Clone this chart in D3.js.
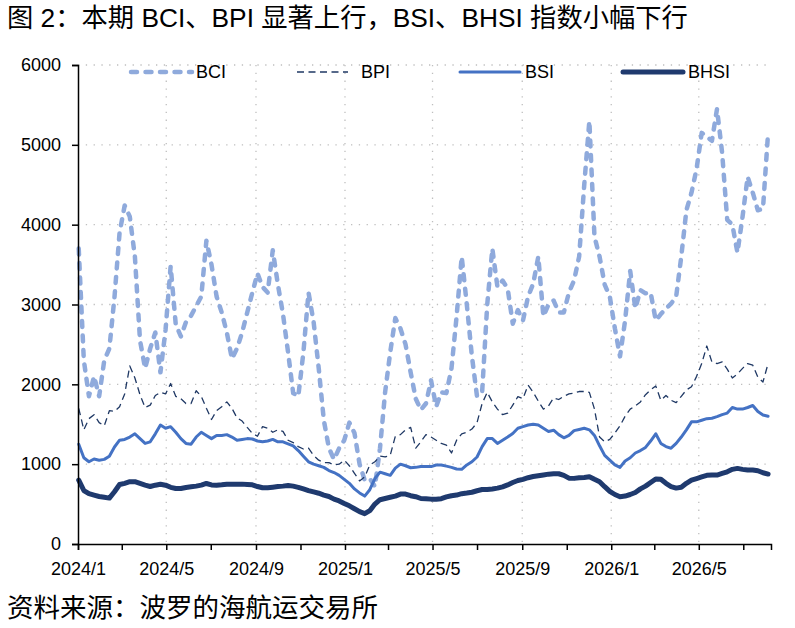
<!DOCTYPE html>
<html>
<head>
<meta charset="utf-8">
<script src="https://cdn.jsdelivr.net/npm/d3@7/dist/d3.min.js"></script>
<style>
  body { margin: 0; background: #fff; }
  svg text { font-family: "Liberation Sans", Arial, sans-serif; fill: #000; }
  .cjk { font-family: "Liberation Sans", "Noto Sans CJK SC", sans-serif; }
</style>
</head>
<body>
<svg id="chart" width="795" height="628"></svg>
<script>
// weekly readings, first week starts 2024/1/2
const startDate = new Date(2024, 0, 2);

const bci = [
  3700, 2300, 1850, 2100, 1850, 2300, 2450, 3090, 3900, 4240,
  4100, 3600, 2550, 2200, 2450, 2650, 2150, 2680, 3480, 2750,
  2600, 2780, 2860, 2980, 3100, 3800, 3500, 3100, 2900, 2650,
  2320, 2450, 2650, 2900, 3150, 3390, 3220, 3150, 3680, 3250,
  2880, 2400, 1890, 1850, 2400, 3150, 2780, 2200, 1550, 1200,
  1060, 1200, 1300, 1520, 1390, 1000, 800, 820, 720, 1200,
  1900, 2400, 2830, 2700, 2500, 2150, 1820, 1680, 1760, 2050,
  1720, 1900, 1890, 2200, 2850, 3600, 3000, 2350, 1850, 1900,
  3000, 3700, 3220, 3300, 3200, 2760, 2930, 2800, 3100, 3260,
  3600, 2850, 3000, 3050, 2900, 2900, 3150, 3300, 3600, 4500,
  5300, 3850, 3600, 3250, 3100, 2700, 2350, 2800, 3420, 2950,
  3180, 3140, 3150, 2800, 2880, 2950, 3010, 3100, 3600, 4180,
  4400, 4700, 5150, 5100, 5050, 5450, 4900, 4060, 4000, 3650,
  4100, 4600, 4400, 4180, 4200, 5150
];

const bpi = [
  1700, 1430, 1570, 1620, 1520, 1480, 1670, 1660, 1720, 1880,
  2230, 2080, 1870, 1710, 1740, 1860, 1900, 1880, 2010, 1850,
  1820, 1760, 1760, 1920, 1850, 1700, 1560, 1670, 1720, 1780,
  1700, 1580, 1540, 1460, 1385, 1350, 1470, 1450, 1400, 1430,
  1410, 1300, 1270, 1220, 1190, 1200, 1110, 1050, 1020, 1020,
  990, 1000, 1050, 980, 885, 790, 840, 990, 1030, 1100,
  1090, 1110, 1350, 1370, 1430, 1460, 1200, 1280, 1370, 1340,
  1300, 1260, 1240, 1140, 1300, 1380, 1400, 1440, 1520, 1760,
  1900, 1780, 1690, 1620, 1640, 1740, 1845, 1820, 1990, 1900,
  1790, 1690, 1730, 1830, 1810, 1850, 1880, 1890, 1910, 1910,
  1900, 1690, 1340, 1280, 1310, 1390, 1480, 1600, 1690, 1730,
  1780, 1870, 1930, 1980, 1800, 1860, 1800, 1770, 1850, 1930,
  1970, 2100, 2260, 2480, 2280, 2260, 2280, 2190, 2080, 2130,
  2200, 2260, 2240, 2090, 2030, 2260
];

const bsi = [
  1250, 1080, 1030, 1065, 1050, 1060, 1100, 1215, 1300, 1310,
  1340, 1380, 1320, 1260, 1280, 1380, 1490, 1450, 1470, 1400,
  1320, 1260, 1250, 1340, 1400, 1360, 1320, 1360, 1360, 1370,
  1340, 1300, 1310, 1320, 1315, 1290, 1280, 1290, 1310, 1280,
  1280, 1255, 1230, 1170, 1100, 1030, 1000, 980, 960, 920,
  895, 860, 810, 760, 690, 640, 600, 680, 820, 900,
  880, 860, 950, 1000, 980, 955, 960, 970, 970, 970,
  990, 990, 975, 960, 940, 935, 990, 1030, 1090, 1220,
  1320, 1320, 1260, 1300, 1340, 1385, 1450, 1470, 1490, 1500,
  1490, 1450, 1410, 1425, 1370, 1330, 1360, 1420, 1435, 1450,
  1430, 1360, 1230, 1110, 1050, 990, 960, 1040, 1080, 1140,
  1170, 1210, 1290, 1380, 1260, 1220, 1200, 1260, 1340, 1430,
  1530, 1530, 1550, 1570, 1575, 1595, 1620, 1640, 1710, 1690,
  1690, 1710, 1735, 1660, 1615, 1600
];

const bhsi = [
  800, 670, 630, 612, 595, 585, 575, 654, 745, 760,
  780, 780, 758, 737, 720, 737, 748, 737, 710, 695,
  695, 708, 716, 725, 737, 758, 740, 737, 741, 748,
  750, 750, 750, 745, 741, 720, 705, 705, 712, 720,
  725, 733, 725, 710, 690, 668, 652, 636, 613, 595,
  562, 540, 508, 478, 442, 405, 380, 417, 500, 555,
  570, 585, 600, 625, 625, 605, 592, 570, 568, 562,
  560, 568, 590, 605, 613, 630, 638, 648, 667, 682,
  684, 690, 700, 715, 740, 770, 795, 810, 830, 845,
  855, 865, 875, 880, 880, 860, 825, 822, 830, 834,
  843, 810, 780, 718, 660, 620, 592, 600, 620, 645,
  690, 725, 770, 815, 810, 760, 720, 700, 710, 760,
  800, 820, 840, 860, 864, 864, 884, 905, 935, 947,
  935, 926, 926, 918, 893, 876
];

const yTicks = [0, 1000, 2000, 3000, 4000, 5000, 6000];
const titleText = "图 2：本期 BCI、BPI 显著上行，BSI、BHSI 指数小幅下行";
const sourceText = "资料来源：波罗的海航运交易所";

const series = [
  { name: "BCI",  values: bci,  color: "#8FAADC", width: 4.5, dash: "6,8.5", cap: "round" },
  { name: "BPI",  values: bpi,  color: "#1F3864", width: 1.3, dash: "7,4.5", cap: "butt" },
  { name: "BSI",  values: bsi,  color: "#4472C4", width: 3,   dash: null,    cap: "round" },
  { name: "BHSI", values: bhsi, color: "#1F3A6E", width: 5,   dash: null,    cap: "round" }
];

const margin = { top: 65, right: 24, bottom: 84, left: 78 };
const W = 795, H = 628;
const svg = d3.select("#chart");

const x = d3.scaleTime()
  .domain([new Date(2024, 0, 1), new Date(2026, 7, 8)])
  .range([margin.left, W - margin.right]);
const y = d3.scaleLinear()
  .domain([0, 6000])
  .range([H - margin.bottom, margin.top]);

const dates = bci.map((_, i) => d3.timeDay.offset(startDate, 7 * i));

// grid
const grid = svg.append("g").attr("stroke", "#BFBFBF").attr("stroke-width", 1.3)
  .attr("stroke-dasharray", "1.3,6.5").attr("stroke-linecap", "butt");
grid.selectAll("line.h").data(yTicks.slice(1)).enter().append("line")
  .attr("x1", margin.left).attr("x2", W - margin.right)
  .attr("y1", d => y(d)).attr("y2", d => y(d));
const majorMonths = d3.timeMonth.every(4).range(new Date(2024, 0, 1), new Date(2026, 7, 8));
grid.selectAll("line.v").data(majorMonths.slice(1)).enter().append("line")
  .attr("x1", d => x(d)).attr("x2", d => x(d))
  .attr("y1", margin.top).attr("y2", H - margin.bottom);

// lines
const line = d3.line().x((d, i) => x(dates[i])).y(d => y(d));
series.forEach(s => {
  svg.append("path")
    .datum(s.values)
    .attr("fill", "none")
    .attr("stroke", s.color)
    .attr("stroke-width", s.width)
    .attr("stroke-linejoin", "round")
    .attr("stroke-linecap", s.cap)
    .attr("stroke-dasharray", s.dash)
    .attr("d", line);
});

// axes
const yAxis = d3.axisLeft(y).tickValues(yTicks).tickSize(6).tickPadding(11).tickFormat(d3.format("d"));
const gy = svg.append("g").attr("transform", `translate(${margin.left},0)`).call(yAxis);
gy.select(".domain").attr("stroke", "#000").attr("stroke-width", 1.5);
gy.selectAll(".tick line").attr("stroke", "#000").attr("stroke-width", 1.5);
gy.selectAll("text").attr("font-size", 18).attr("font-family", "Liberation Sans, Arial");

const xAxis = d3.axisBottom(x).ticks(d3.timeMonth.every(2)).tickSize(6).tickPadding(12)
  .tickFormat(d => d.getMonth() % 4 === 0 ? d3.timeFormat("%Y/")(d) + (d.getMonth() + 1) : "");
const gx = svg.append("g").attr("transform", `translate(0,${H - margin.bottom})`).call(xAxis);
gx.select(".domain").attr("stroke", "#000").attr("stroke-width", 1.5);
gx.selectAll(".tick line").attr("stroke", "#000").attr("stroke-width", 1.5);
gx.selectAll("text").attr("font-size", 18).attr("font-family", "Liberation Sans, Arial");

// legend
const legendPos = [
  { x0: 131, x1: 192, tx: 196 },
  { x0: 297, x1: 348, tx: 361 },
  { x0: 460, x1: 520, tx: 525 },
  { x0: 623, x1: 683, tx: 688 }
];
const ly = 72;
series.forEach((s, i) => {
  const p = legendPos[i];
  svg.append("line")
    .attr("x1", p.x0).attr("x2", p.x1).attr("y1", ly).attr("y2", ly)
    .attr("stroke", s.color).attr("stroke-width", s.width)
    .attr("stroke-linecap", s.cap).attr("stroke-dasharray", s.dash);
  svg.append("text").attr("x", p.tx).attr("y", ly).attr("dy", "0.36em")
    .attr("font-size", 18).text(s.name);
});

// title and source
svg.append("text").attr("class", "cjk").attr("x", 7).attr("y", 27)
  .attr("font-size", 26.3).text(titleText);
svg.append("text").attr("class", "cjk").attr("x", 7).attr("y", 617)
  .attr("font-size", 26.5).text(sourceText);
</script>
</body>
</html>
